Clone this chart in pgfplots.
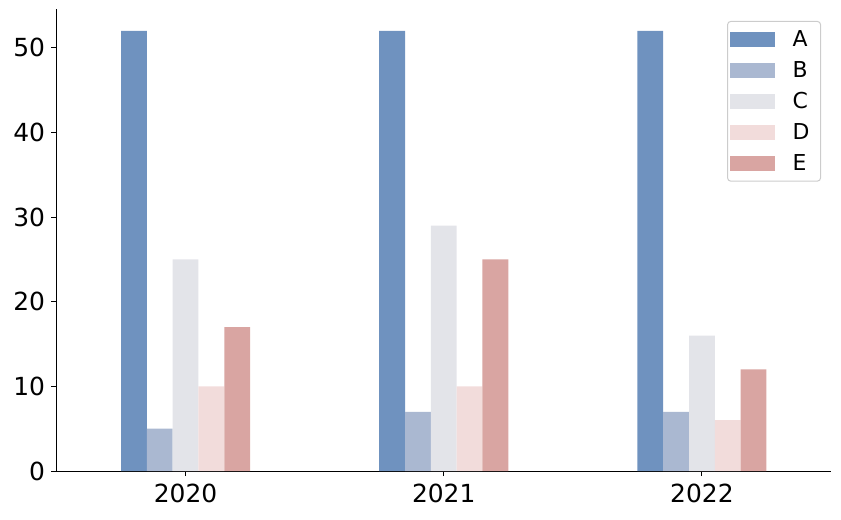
\documentclass[border=0pt]{standalone}
\usepackage{fontspec}
\setmainfont{DejaVu Sans}
\usepackage{pgfplots}
\pgfplotsset{compat=1.18}
\definecolor{cA}{HTML}{6F92BF}
\definecolor{cB}{HTML}{AAB8D1}
\definecolor{cC}{HTML}{E3E4E9}
\definecolor{cD}{HTML}{F2DCDB}
\definecolor{cE}{HTML}{D9A5A2}
\pgfplotsset{mybar/.style={fill=#1, draw=none,
  legend image code/.code={\fill[#1, sharp corners] (0bp,-7.5bp) rectangle (45bp,7.5bp);}}}
\begin{document}
\begin{tikzpicture}
\begin{axis}[
  scale only axis,
  width=774.5bp, height=462bp,
  ybar=0pt, bar width=0.1,
  xmin=-0.5, xmax=2.5,
  ymin=0, ymax=54.6,
  axis lines=left,
  axis line style={-, line width=1bp},
  tick align=outside,
  major tick length=5bp,
  tick style={line width=1bp, black},
  xtick={0,1,2}, xticklabels={2020,2021,2022},
  ytick={0,10,20,30,40,50},
  /pgf/number format/assume math mode=true,
  ticklabel style={font=\fontsize{25}{30}\selectfont},
  xticklabel style={yshift=-4bp},
  yticklabel style={xshift=-3bp},
  legend style={at={(1,1)}, anchor=north east, xshift=-10bp, yshift=-12bp,
    draw=black!20, line width=1bp, rounded corners=3bp,
    font=\fontsize{22}{26}\selectfont, row sep=9.5bp,
    inner xsep=2bp, inner ysep=7bp,
    nodes={inner xsep=9bp}},
  legend cell align=left,
]
\addplot[mybar=cA] coordinates {(0,52) (1,52) (2,52)};
\addplot[mybar=cB] coordinates {(0,5) (1,7) (2,7)};
\addplot[mybar=cC] coordinates {(0,25) (1,29) (2,16)};
\addplot[mybar=cD] coordinates {(0,10) (1,10) (2,6)};
\addplot[mybar=cE] coordinates {(0,17) (1,25) (2,12)};
\legend{\hspace{9bp}A,\hspace{9bp}B,\hspace{9bp}C,\hspace{9bp}D,\hspace{9bp}E}
\end{axis}
\path (current axis.south west) ++(-56.5bp,-49bp) rectangle ++(841bp,520bp);
\end{tikzpicture}
\end{document}
